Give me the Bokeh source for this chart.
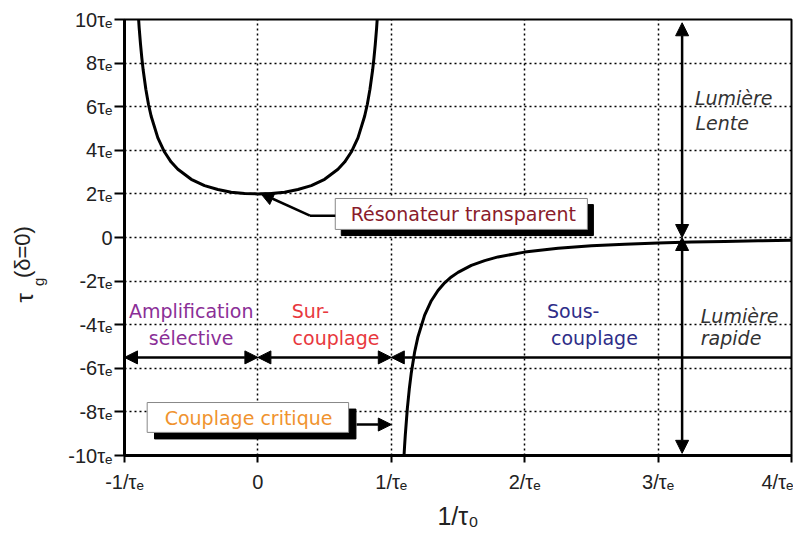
from math import pi
from bokeh.plotting import figure
from bokeh.layouts import row
from bokeh.models import Range1d, FixedTicker, Label, Arrow, NormalHead
from bokeh.embed import file_html
from bokeh.resources import INLINE

# ---- data ----
# branch for 1/tau0 < 1/tau_e (transparent resonator / over-coupling / amplification)
x_left = [-0.9, -0.89, -0.88, -0.87, -0.86, -0.84, -0.82, -0.8, -0.75, -0.7, -0.65, -0.6,
          -0.5, -0.4, -0.3, -0.2, -0.1, 0.0, 0.1, 0.2, 0.3, 0.4, 0.5, 0.6, 0.65, 0.7,
          0.75, 0.8, 0.82, 0.84, 0.86, 0.87, 0.88, 0.89, 0.9]
y_left = [10.53, 9.62, 8.87, 8.23, 7.68, 6.80, 6.10, 5.56, 4.57, 3.92, 3.46, 3.13,
          2.67, 2.38, 2.20, 2.08, 2.02, 2.00, 2.02, 2.08, 2.20, 2.38, 2.67, 3.13, 3.46, 3.92,
          4.57, 5.56, 6.10, 6.80, 7.68, 8.23, 8.87, 9.62, 10.53]
# branch for 1/tau0 > 1/tau_e (under-coupling, fast light)
x_right = [1.09, 1.095, 1.1, 1.105, 1.12, 1.135, 1.15, 1.175, 1.2, 1.25, 1.3, 1.35, 1.4,
           1.45, 1.5, 1.6, 1.7, 1.8, 2.0, 2.25, 2.5, 2.75, 3.0, 3.25, 3.5, 3.75, 4.0]
y_right = [-10.6, -10.05, -9.52, -9.05, -7.86, -6.94, -6.20, -5.25, -4.55, -3.56, -2.90, -2.43, -2.08,
           -1.81, -1.60, -1.28, -1.06, -0.89, -0.67, -0.49, -0.38, -0.31, -0.25, -0.21, -0.18, -0.15, -0.13]

x_ticks = [-1, 0, 1, 2, 3, 4]
x_tick_labels = ["-1/τₑ", "0", "1/τₑ", "2/τₑ", "3/τₑ", "4/τₑ"]
y_ticks = [-10, -8, -6, -4, -2, 0, 2, 4, 6, 8, 10]
y_tick_labels = ["-10τₑ", "-8τₑ", "-6τₑ", "-4τₑ", "-2τₑ", "0", "2τₑ", "4τₑ", "6τₑ", "8τₑ", "10τₑ"]
x_grid = [0, 1, 2, 3]
y_grid = [-8, -6, -4, -2, 0, 2, 4, 6, 8]

TICK_FONT = "Liberation Sans"
ANN_FONT = "DejaVu Sans"
W_LAB = 50
H = 532

# ---- narrow panel holding the y-axis title tau_g(delta=0) (frame aligned with the chart) ----
lp = figure(width=W_LAB, height=H, x_range=Range1d(0, W_LAB), y_range=Range1d(-10, 10),
            output_backend="svg", toolbar_location=None, x_axis_type=None, y_axis_type=None,
            min_border=0, min_border_left=0, min_border_right=0, min_border_top=19, min_border_bottom=77)
lp.outline_line_color = None
lp.xgrid.visible = False
lp.ygrid.visible = False
lp.background_fill_color = "white"
lp.border_fill_color = "white"
for txt, xx, yy, fs in [("τ", 24, -2.98, "24px"), ("g", 38, -2.22, "15px"), ("(δ=0)", 22, -1.86, "22px")]:
    lp.add_layout(Label(x=xx, y=yy, text=txt, angle=pi / 2, text_align="left",
                        text_baseline="middle", text_font=TICK_FONT, text_font_size=fs,
                        text_color="#222222"))

# ---- main chart ----
p = figure(width=793 - W_LAB, height=H, x_range=Range1d(-1, 4), y_range=Range1d(-10, 10),
           output_backend="svg", toolbar_location=None,
           min_border_left=124 - W_LAB, min_border_right=2, min_border_top=19, min_border_bottom=77)
p.background_fill_color = "white"
p.border_fill_color = "white"
p.outline_line_color = "black"
p.outline_line_width = 2

# grid
p.xgrid.ticker = FixedTicker(ticks=x_grid)
p.ygrid.ticker = FixedTicker(ticks=y_grid)
for g in (p.xgrid, p.ygrid):
    g.grid_line_color = "black"
    g.grid_line_dash = "2 3"
    g.grid_line_width = 1.5
    g.grid_line_alpha = 1.0

# axes
p.xaxis.ticker = FixedTicker(ticks=x_ticks)
p.yaxis.ticker = FixedTicker(ticks=y_ticks)
p.xaxis.major_label_overrides = dict(zip(x_ticks, x_tick_labels))
p.yaxis.major_label_overrides = dict(zip(y_ticks, y_tick_labels))
for ax in (p.xaxis, p.yaxis):
    ax.axis_line_width = 3
    ax.axis_line_color = "black"
    ax.major_tick_line_width = 2
    ax.major_tick_in = 0
    ax.minor_tick_line_color = None
    ax.major_label_text_font = TICK_FONT
    ax.major_label_text_font_size = "20px"
    ax.major_label_text_color = "#222222"
p.xaxis.major_tick_out = 7
p.yaxis.major_tick_out = 10
p.yaxis.major_label_standoff = 2
p.xaxis.major_label_standoff = 8
p.xaxis.axis_label = "1/τ₀"
p.xaxis.axis_label_text_font = TICK_FONT
p.xaxis.axis_label_text_font_size = "25px"
p.xaxis.axis_label_text_font_style = "normal"
p.xaxis.axis_label_text_color = "#222222"
p.xaxis.axis_label_standoff = 6

# curves
p.line(x_left, y_left, line_width=3, line_color="black")
p.line(x_right, y_right, line_width=3, line_color="black")

def head():
    return NormalHead(size=13, fill_color="black", line_color="black", line_width=1)

# horizontal region arrows
HY = -5.5
p.add_layout(Arrow(x_start=-1, y_start=HY, x_end=0, y_end=HY, start=head(), end=head(), line_width=2.5))
p.add_layout(Arrow(x_start=0, y_start=HY, x_end=1, y_end=HY, start=head(), end=head(), line_width=2.5))
p.add_layout(Arrow(x_start=1, y_start=HY, x_end=4, y_end=HY, start=head(), end=None, line_width=2.5))
# vertical arrows slow / fast light
VX = 3.18
p.add_layout(Arrow(x_start=VX, y_start=0, x_end=VX, y_end=9.85, start=head(), end=head(), line_width=2.5))
p.add_layout(Arrow(x_start=VX, y_start=0, x_end=VX, y_end=-9.9, start=head(), end=head(), line_width=2.5))

# callout "Résonateur transparent"
p.quad(left=0.625, right=2.515, bottom=0.09, top=1.51, fill_color="black", line_color="black")
p.quad(left=0.58, right=2.47, bottom=0.37, top=1.79, fill_color="white", line_color="#888888", line_width=1)
p.line([0.58, 0.39], [1.0, 1.0], line_width=2.5, line_color="black")
p.add_layout(Arrow(x_start=0.39, y_start=1.0, x_end=0.02, y_end=2.03, end=head(), line_width=2.5))

# callout "Couplage critique"
p.quad(left=-0.775, right=0.735, bottom=-9.24, top=-7.87, fill_color="black", line_color="black")
p.quad(left=-0.83, right=0.68, bottom=-8.94, top=-7.57, fill_color="white", line_color="#888888", line_width=1)
p.add_layout(Arrow(x_start=0.74, y_start=-8.58, x_end=1.0, y_end=-8.58, end=head(), line_width=2.5))

def lab(x, y, text, color, align="left", style="normal", size="19px"):
    p.add_layout(Label(x=x, y=y, text=text, text_align=align, text_baseline="middle",
                       text_font=ANN_FONT, text_font_size=size, text_font_style=style,
                       text_color=color))

lab(1.54, 1.1, "Résonateur transparent", "#8A1C2B", align="center")
lab(-0.07, -8.3, "Couplage critique", "#F0932E", align="center")
lab(-0.5, -3.39, "Amplification", "#8B2F97", align="center")
lab(-0.5, -4.59, "sélective", "#8B2F97", align="center")
lab(0.253, -3.39, "Sur-", "#E8383D")
lab(0.26, -4.59, "couplage", "#E8383D")
lab(2.167, -3.39, "Sous-", "#2E2D88")
lab(2.197, -4.63, "couplage", "#2E2D88")
lab(3.276, 6.42, "Lumière", "#333333", style="italic")
lab(3.28, 5.23, "Lente", "#333333", style="italic")
lab(3.32, -3.62, "Lumière", "#333333", style="italic")
lab(3.32, -4.59, "rapide", "#333333", style="italic")

layout = row(lp, p, spacing=0)
open("out.html", "w").write(file_html(layout, INLINE))
